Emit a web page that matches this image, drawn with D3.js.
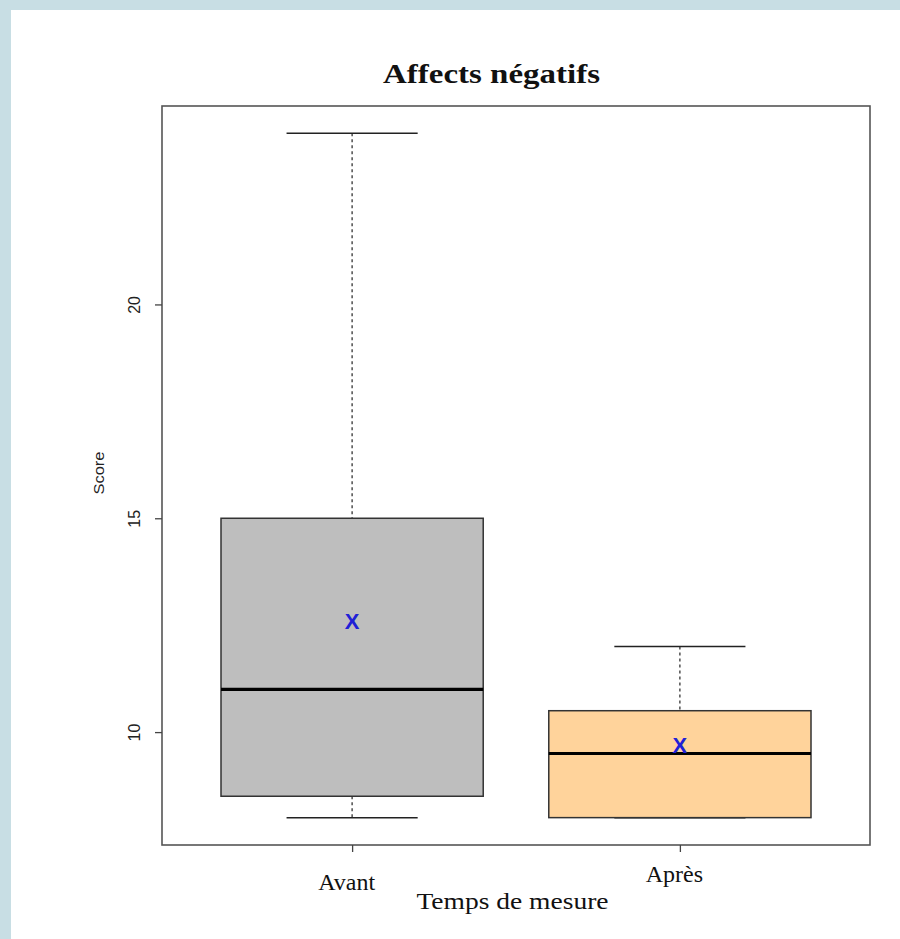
<!DOCTYPE html>
<html>
<head>
<meta charset="utf-8">
<script src="https://cdn.jsdelivr.net/npm/d3@7"></script>
<style>
  html, body { margin: 0; padding: 0; background: #c8dee4; }
  svg { display: block; }
</style>
</head>
<body>
<div id="chart"></div>
<script>
// boxplot summaries
const groups = ["Avant", "Après"];
const whiskerLow = [8, 8];
const q1 = [8.5, 8];
const medians = [11, 9.5];
const q3 = [15, 10.5];
const whiskerHigh = [24, 12];
const means = [12.6, 9.7];
const yTicks = [10, 15, 20];

const W = 900, H = 939;
const plot = { left: 162, right: 870, top: 106, bottom: 845 };

const svg = d3.select("#chart").append("svg")
    .attr("width", W)
    .attr("height", H);

// slide background + white panel
svg.append("rect").attr("width", W).attr("height", H).attr("fill", "#c8dee4");
svg.append("rect")
    .attr("x", 11).attr("y", 10)
    .attr("width", W - 11).attr("height", H - 10)
    .attr("fill", "#ffffff");

// R style: range extended 4% on each side
const x = d3.scaleLinear().domain([0.42, 2.58]).range([plot.left, plot.right]);
const y = d3.scaleLinear().domain([7.36, 24.64]).range([plot.bottom, plot.top]);
const fill = d3.scaleOrdinal(groups, ["#bebebe", "#ffd39b"]);

const boxHalf = 0.4, capHalf = 0.2;

const data = groups.map((g, i) => ({
    name: g, pos: i + 1,
    lo: whiskerLow[i], q1: q1[i], med: medians[i], q3: q3[i], hi: whiskerHigh[i], mean: means[i]
}));

const boxes = svg.append("g").selectAll("g")
    .data(data)
    .join("g");

// dashed whiskers
boxes.append("line")
    .attr("x1", d => x(d.pos)).attr("x2", d => x(d.pos))
    .attr("y1", d => y(d.hi)).attr("y2", d => y(d.q3))
    .attr("stroke", "#333").attr("stroke-width", 1.3)
    .attr("stroke-dasharray", "3,3");
boxes.append("line")
    .attr("x1", d => x(d.pos)).attr("x2", d => x(d.pos))
    .attr("y1", d => y(d.q1)).attr("y2", d => y(d.lo))
    .attr("stroke", "#333").attr("stroke-width", 1.3)
    .attr("stroke-dasharray", "3,3");

// caps
boxes.selectAll(".cap")
    .data(d => [d.lo, d.hi].map(v => ({ pos: d.pos, v })))
    .join("line")
    .attr("class", "cap")
    .attr("x1", d => x(d.pos - capHalf)).attr("x2", d => x(d.pos + capHalf))
    .attr("y1", d => y(d.v)).attr("y2", d => y(d.v))
    .attr("stroke", "#222").attr("stroke-width", 1.5);

// boxes
boxes.append("rect")
    .attr("x", d => x(d.pos - boxHalf))
    .attr("width", d => x(d.pos + boxHalf) - x(d.pos - boxHalf))
    .attr("y", d => y(d.q3))
    .attr("height", d => y(d.q1) - y(d.q3))
    .attr("fill", d => fill(d.name))
    .attr("stroke", "#333").attr("stroke-width", 1.5);

// medians
boxes.append("line")
    .attr("x1", d => x(d.pos - boxHalf)).attr("x2", d => x(d.pos + boxHalf))
    .attr("y1", d => y(d.med)).attr("y2", d => y(d.med))
    .attr("stroke", "#000").attr("stroke-width", 3.2);

// mean markers
boxes.append("text")
    .attr("x", d => x(d.pos))
    .attr("y", d => y(d.mean))
    .attr("dy", "0.36em")
    .attr("text-anchor", "middle")
    .style("font-family", "'Liberation Sans', Arial, sans-serif")
    .style("font-size", "22px")
    .style("font-weight", "bold")
    .attr("fill", "#2020d6")
    .text("X");

// plot frame
svg.append("rect")
    .attr("x", plot.left).attr("y", plot.top)
    .attr("width", plot.right - plot.left)
    .attr("height", plot.bottom - plot.top)
    .attr("fill", "none")
    .attr("stroke", "#555").attr("stroke-width", 1.6);

// y axis
const yAxis = svg.append("g")
    .attr("transform", `translate(${plot.left},0)`)
    .call(d3.axisLeft(y).tickValues(yTicks).tickSize(7).tickPadding(0));
yAxis.select(".domain").remove();
yAxis.selectAll(".tick line").attr("stroke", "#444").attr("stroke-width", 1.3);
yAxis.selectAll(".tick text")
    .attr("x", 0).attr("y", 0)
    .attr("transform", "translate(-22,0) rotate(-90)")
    .attr("text-anchor", "middle")
    .attr("dy", 0)
    .attr("fill", "#222")
    .style("font-family", "'Liberation Sans', Arial, sans-serif")
    .style("font-size", "16px");

// x axis
const xLabelShift = [8, 0];
const xAxis = svg.append("g")
    .attr("transform", `translate(0,${plot.bottom})`)
    .call(d3.axisBottom(x).tickValues([1, 2]).tickFormat(d => groups[d - 1]).tickSize(7).tickPadding(0));
xAxis.select(".domain").remove();
xAxis.selectAll(".tick line").attr("stroke", "#444").attr("stroke-width", 1.3);
xAxis.selectAll(".tick text")
    .attr("x", -6)
    .attr("y", (d, i) => 37 + xLabelShift[i])
    .attr("dy", 0)
    .attr("fill", "#111")
    .style("font-family", "'Liberation Serif', 'Times New Roman', serif")
    .style("font-size", "24px");

// title and axis titles
svg.append("text")
    .attr("x", 491.5).attr("y", 83)
    .attr("text-anchor", "middle")
    .attr("textLength", 217).attr("lengthAdjust", "spacingAndGlyphs")
    .style("font-family", "'Liberation Serif', 'Times New Roman', serif")
    .style("font-weight", "bold")
    .style("font-size", "27px")
    .attr("fill", "#111")
    .text("Affects négatifs");

svg.append("text")
    .attr("x", 512.5).attr("y", 909)
    .attr("text-anchor", "middle")
    .attr("textLength", 192).attr("lengthAdjust", "spacingAndGlyphs")
    .style("font-family", "'Liberation Serif', 'Times New Roman', serif")
    .style("font-size", "24px")
    .attr("fill", "#111")
    .text("Temps de mesure");

svg.append("text")
    .attr("transform", "translate(104,473) rotate(-90)")
    .attr("text-anchor", "middle")
    .attr("textLength", 43).attr("lengthAdjust", "spacingAndGlyphs")
    .style("font-family", "'Liberation Sans', Arial, sans-serif")
    .style("font-size", "15px")
    .attr("fill", "#222")
    .text("Score");
</script>
</body>
</html>
